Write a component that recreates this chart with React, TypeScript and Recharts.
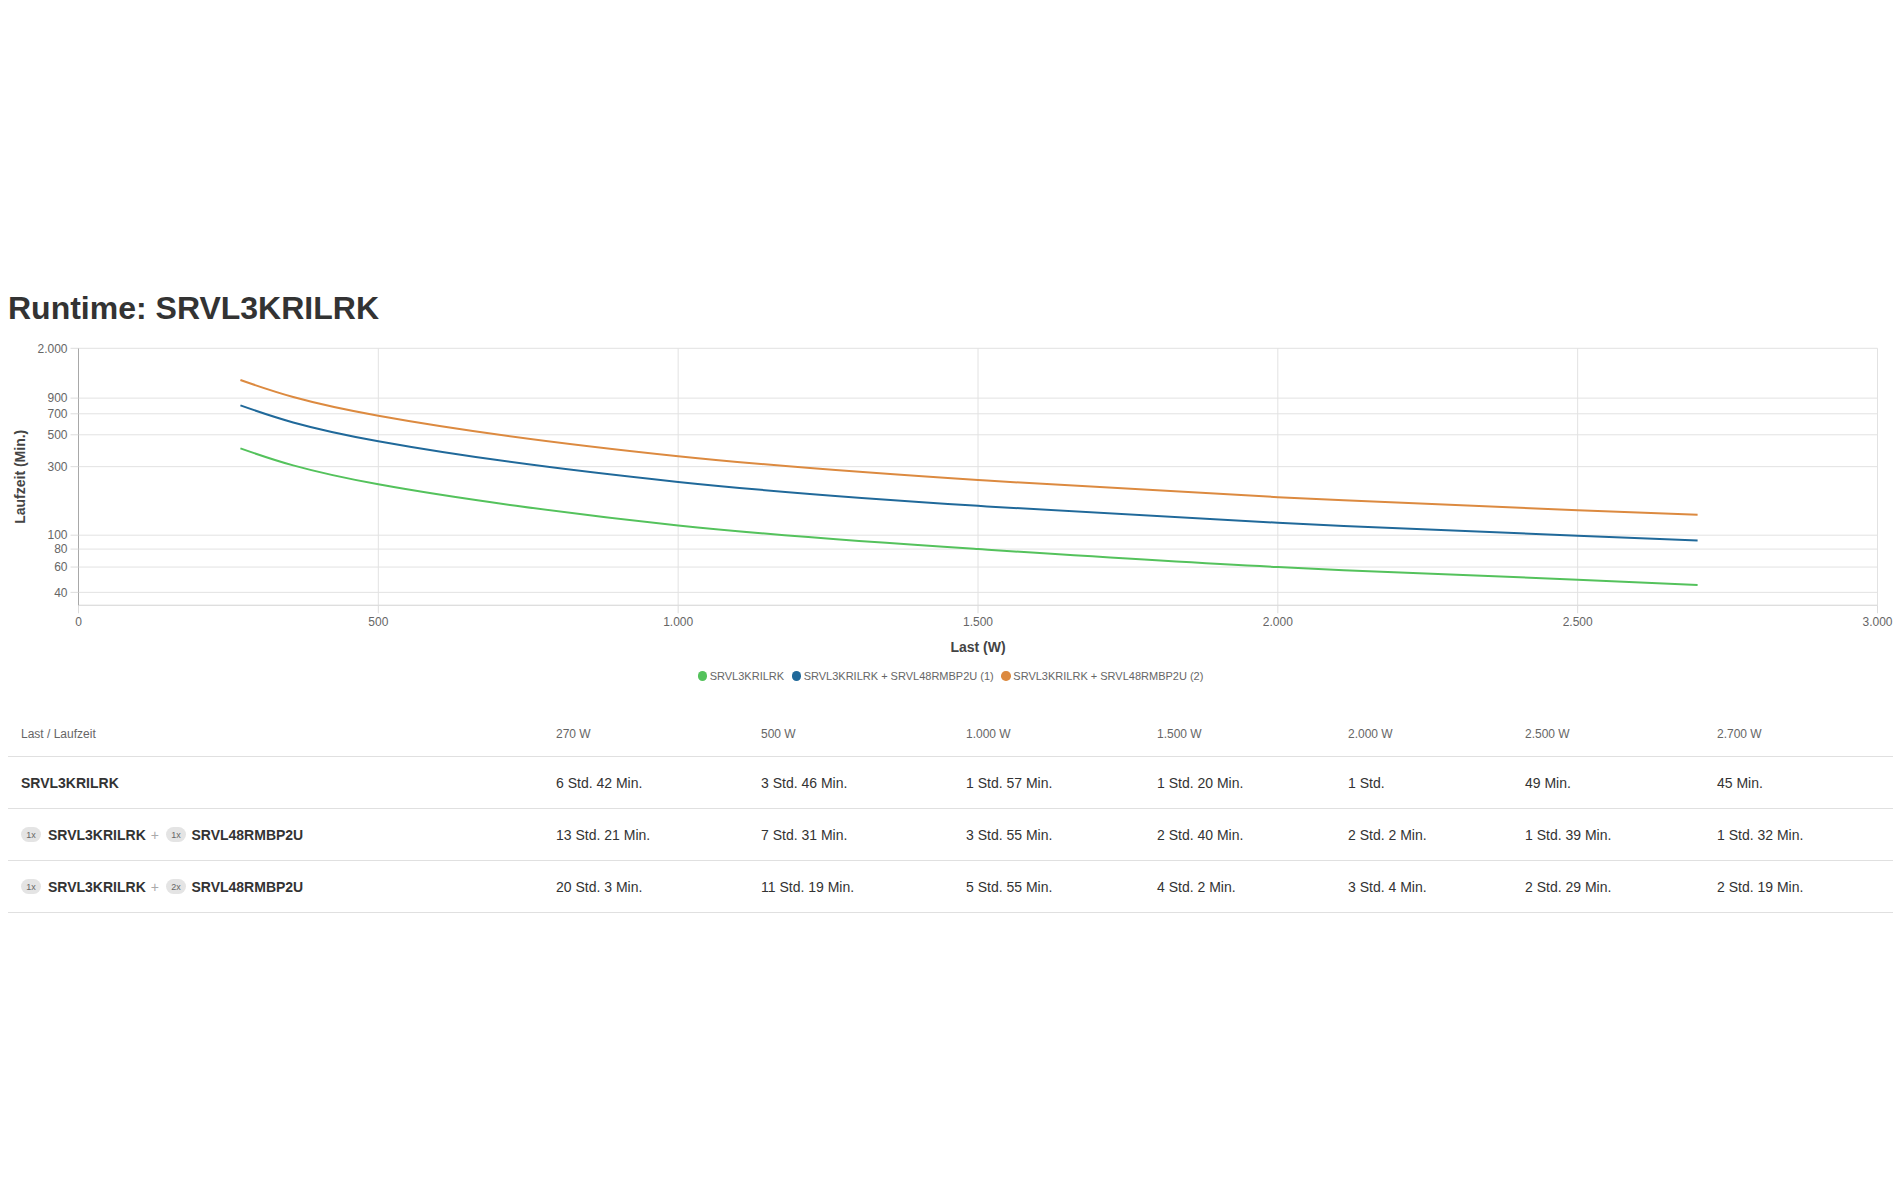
import React from 'react';
import { LineChart, Line, XAxis, YAxis, CartesianGrid, Legend } from 'recharts';

const loads = [270, 500, 1000, 1500, 2000, 2500, 2700];
const runtimeBase = [402, 226, 117, 80, 60, 49, 45];
const runtimeOneBattery = [801, 451, 235, 160, 122, 99, 92];
const runtimeTwoBatteries = [1203, 679, 355, 242, 184, 149, 139];

const seriesNames = [
  'SRVL3KRILRK',
  'SRVL3KRILRK + SRVL48RMBP2U (1)',
  'SRVL3KRILRK + SRVL48RMBP2U (2)',
];
const seriesColors = ['#54c25c', '#20699a', '#dc8a40'];

const xTicks = [0, 500, 1000, 1500, 2000, 2500, 3000];
const yTicks = [40, 60, 80, 100, 300, 500, 700, 900, 2000];

const tableRows = [
  { parts: [{ qty: '', name: 'SRVL3KRILRK' }], values: runtimeBase },
  { parts: [{ qty: '1x', name: 'SRVL3KRILRK' }, { qty: '1x', name: 'SRVL48RMBP2U' }], values: runtimeOneBattery },
  { parts: [{ qty: '1x', name: 'SRVL3KRILRK' }, { qty: '2x', name: 'SRVL48RMBP2U' }], values: runtimeTwoBatteries },
];

const colWidths = [535, 205, 205, 191, 191, 177, 192, 189];
const FONT = '"Liberation Sans", Arial, Helvetica, sans-serif';

const fmtThousands = (v: number) => String(v).replace(/\B(?=(\d{3})+(?!\d))/g, '.');
const fmtRuntime = (m: number) => {
  const h = Math.floor(m / 60);
  const r = m % 60;
  if (h && r) return `${h} Std. ${r} Min.`;
  if (h) return `${h} Std.`;
  return `${r} Min.`;
};

const chartData = loads.map((w, i) => ({
  w,
  a: runtimeBase[i],
  b: runtimeOneBattery[i],
  c: runtimeTwoBatteries[i],
}));

const renderLegend = (props: any) => {
  const payload = props.payload || [];
  return (
    <div
      style={{
        display: 'flex',
        justifyContent: 'center',
        alignItems: 'center',
        height: 20,
        fontSize: 11,
        color: '#666',
        fontFamily: FONT,
        whiteSpace: 'nowrap',
      }}
    >
      {payload.map((e: any, i: number) => (
        <span
          key={i}
          style={{ display: 'inline-flex', alignItems: 'center', marginRight: i < payload.length - 1 ? 7.5 : 0 }}
        >
          <span
            style={{
              display: 'inline-block',
              width: 9.5,
              height: 9.5,
              borderRadius: '50%',
              background: e.color,
              marginRight: 2.6,
            }}
          />
          {e.value}
        </span>
      ))}
    </div>
  );
};

const Badge = ({ text }: { text: string }) => (
  <span
    style={{
      display: 'inline-flex',
      alignItems: 'center',
      justifyContent: 'center',
      width: 20,
      height: 15,
      borderRadius: 8,
      background: '#e4e4e4',
      color: '#666',
      fontSize: 9,
      fontWeight: 'normal',
    }}
  >
    {text}
  </span>
);

const cellBase: React.CSSProperties = {
  boxSizing: 'border-box',
  paddingLeft: 13,
  display: 'flex',
  alignItems: 'center',
  height: '100%',
  whiteSpace: 'nowrap',
};

export default function App() {
  return (
    <div style={{ position: 'relative', width: 1885, height: 1180, fontFamily: FONT }}>
      <div
        style={{
          position: 'absolute',
          left: 0,
          top: 284,
          fontSize: 32,
          lineHeight: '32px',
          fontWeight: 'bold',
          color: '#333',
          whiteSpace: 'nowrap',
        }}
      >
        Runtime: SRVL3KRILRK
      </div>

      <div style={{ position: 'absolute', left: 0, top: 322 }}>
        <LineChart
          width={1885}
          height={370}
          data={chartData}
          margin={{ top: 18.3, right: 15.5, left: 0, bottom: 14 }}
        >
          <CartesianGrid stroke="#e2e2e2" />
          <XAxis
            dataKey="w"
            type="number"
            domain={[0, 3000]}
            ticks={xTicks}
            interval={0}
            height={60.7}
            tickFormatter={fmtThousands}
            tick={{ fill: '#666', fontSize: 12, fontFamily: FONT }}
            tickSize={8}
            tickMargin={4}
            tickLine={{ stroke: '#dcdcdc' }}
            axisLine={{ stroke: '#dcdcdc' }}
            label={{
              content: (p: any) => {
                const vb = p.viewBox || {};
                return (
                  <text
                    x={vb.x + vb.width / 2}
                    y={vb.y + 47}
                    textAnchor="middle"
                    fontSize={14}
                    fontWeight="bold"
                    fill="#444"
                    fontFamily={FONT}
                  >
                    Last (W)
                  </text>
                );
              },
            }}
          />
          <YAxis
            scale="log"
            domain={[32.5, 2000]}
            allowDataOverflow
            ticks={yTicks}
            interval={0}
            width={70.5}
            tickFormatter={fmtThousands}
            tick={{ fill: '#666', fontSize: 12, fontFamily: FONT }}
            tickSize={8}
            tickMargin={3}
            tickLine={{ stroke: '#dcdcdc' }}
            axisLine={{ stroke: '#a8a8a8' }}
            label={{
              content: (p: any) => {
                const vb = p.viewBox || {};
                const x = vb.x + 17;
                const y = vb.y + vb.height / 2;
                return (
                  <text
                    x={x}
                    y={y}
                    transform={`rotate(-90, ${x}, ${y})`}
                    textAnchor="middle"
                    fontSize={14}
                    fontWeight="bold"
                    fill="#444"
                    fontFamily={FONT}
                  >
                    Laufzeit (Min.)
                  </text>
                );
              },
            }}
          />
          <Legend
            verticalAlign="bottom"
            content={renderLegend}
            wrapperStyle={{ left: 0, width: 1885 }}
          />
          <Line type="natural" dataKey="a" name={seriesNames[0]} stroke={seriesColors[0]} strokeWidth={2} dot={false} isAnimationActive={false} />
          <Line type="natural" dataKey="b" name={seriesNames[1]} stroke={seriesColors[1]} strokeWidth={2} dot={false} isAnimationActive={false} />
          <Line type="natural" dataKey="c" name={seriesNames[2]} stroke={seriesColors[2]} strokeWidth={2} dot={false} isAnimationActive={false} />
        </LineChart>
      </div>

      <div style={{ position: 'absolute', left: 0, top: 703.3, width: 1885 }}>
        <div style={{ display: 'flex', height: 46, borderBottom: '1px solid #e0e0e0', boxSizing: 'border-box', fontSize: 12, color: '#666' }}>
          <div style={{ ...cellBase, width: colWidths[0] }}>Last / Laufzeit</div>
          {loads.map((w, i) => (
            <div key={i} style={{ ...cellBase, width: colWidths[i + 1] }}>
              {fmtThousands(w)} W
            </div>
          ))}
        </div>
        {tableRows.map((row, ri) => (
          <div
            key={ri}
            style={{ display: 'flex', height: 52, borderBottom: '1px solid #e0e0e0', boxSizing: 'border-box', fontSize: 14, color: '#333' }}
          >
            <div style={{ ...cellBase, width: colWidths[0], fontWeight: 'bold' }}>
              {row.parts.map((part, pi) => (
                <React.Fragment key={pi}>
                  {pi > 0 && (
                    <span style={{ color: '#aaa', fontWeight: 'normal', marginRight: 7 }}>+</span>
                  )}
                  {part.qty && (
                    <span style={{ marginRight: pi === 0 ? 7 : 5.5, display: 'inline-flex' }}>
                      <Badge text={part.qty} />
                    </span>
                  )}
                  <span style={{ marginRight: pi < row.parts.length - 1 ? 5 : 0 }}>{part.name}</span>
                </React.Fragment>
              ))}
            </div>
            {row.values.map((v, i) => (
              <div key={i} style={{ ...cellBase, width: colWidths[i + 1] }}>
                {fmtRuntime(v)}
              </div>
            ))}
          </div>
        ))}
      </div>
    </div>
  );
}
